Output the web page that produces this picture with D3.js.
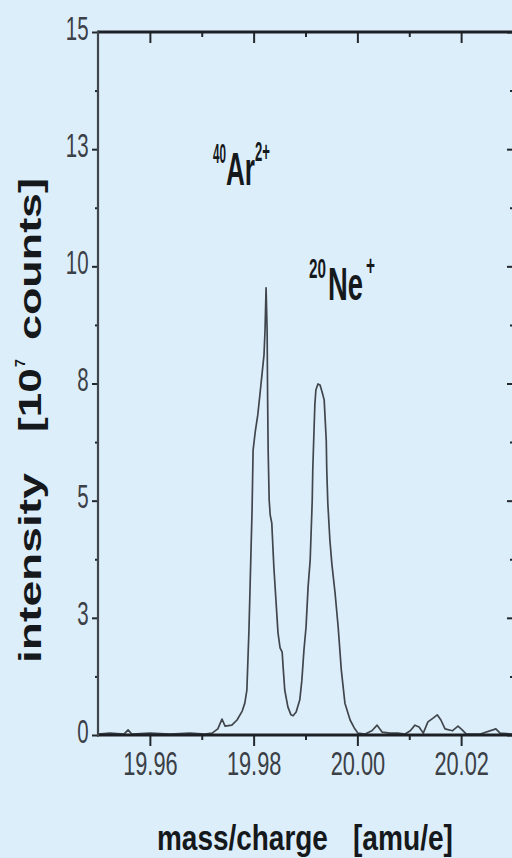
<!DOCTYPE html>
<html>
<head>
<meta charset="utf-8">
<script src="https://cdn.jsdelivr.net/npm/d3@7/dist/d3.min.js"></script>
<style>
  html, body { margin: 0; padding: 0; background: #ddeefb; }
  svg { display: block; }
</style>
</head>
<body>
<svg id="chart" width="512" height="858"></svg>
<script>
// Mass spectrum around m/q = 20: 40Ar2+ and 20Ne+ peaks
const massValues = [
  19.9500, 19.9523, 19.9550, 19.9558, 19.9565, 19.9600, 19.9639, 19.9677, 19.9706, 19.9720,
  19.9731, 19.9739, 19.9745, 19.9758, 19.9768, 19.9778, 19.9783, 19.9787, 19.9789, 19.9791,
  19.9793, 19.9795, 19.9797, 19.9799, 19.9803, 19.9808, 19.9812, 19.9816, 19.9820, 19.9822,
  19.9824, 19.9826, 19.9827, 19.9828, 19.9830, 19.9832, 19.9835, 19.9837, 19.9839, 19.9843,
  19.9847, 19.9851, 19.9855, 19.9857, 19.9860, 19.9866, 19.9872, 19.9876, 19.9882, 19.9889,
  19.9893, 19.9897, 19.9901, 19.9905, 19.9909, 19.9911, 19.9913, 19.9914, 19.9916, 19.9918,
  19.9920, 19.9924, 19.9928, 19.9932, 19.9936, 19.9940, 19.9941, 19.9943, 19.9947, 19.9951,
  19.9957, 19.9963, 19.9969, 19.9976, 19.9986, 19.9994, 20.0001, 20.0015, 20.0028, 20.0038,
  20.0048, 20.0063, 20.0078, 20.0092, 20.0102, 20.0111, 20.0119, 20.0127, 20.0136, 20.0146,
  20.0154, 20.0161, 20.0169, 20.0183, 20.0194, 20.0202, 20.0210, 20.0237, 20.0267, 20.0275,
  20.0298
];
const intensityValues = [
  0.02, 0.04, 0.02, 0.11, 0.02, 0.04, 0.02, 0.04, 0.02, 0.04,
  0.13, 0.34, 0.19, 0.21, 0.32, 0.51, 0.68, 0.96, 1.60, 2.24,
  3.09, 3.95, 4.80, 6.08, 6.46, 6.83, 7.25, 7.68, 8.11, 8.64,
  9.54, 8.64, 7.15, 6.08, 5.01, 4.69, 4.52, 4.05, 3.58, 2.88,
  2.18, 1.86, 1.77, 1.43, 0.96, 0.60, 0.43, 0.41, 0.49, 0.75,
  1.17, 1.81, 2.30, 3.16, 3.73, 4.37, 5.01, 5.65, 6.36, 7.04,
  7.36, 7.49, 7.47, 7.32, 7.15, 6.29, 5.65, 4.95, 4.16, 3.63,
  3.03, 2.30, 1.39, 0.68, 0.32, 0.15, 0.04, 0.02, 0.09, 0.21,
  0.06, 0.04, 0.04, 0.02, 0.09, 0.21, 0.17, 0.04, 0.28, 0.36,
  0.43, 0.32, 0.13, 0.09, 0.19, 0.11, 0.02, 0.02, 0.13, 0.04,
  0.02
];

const xMajorTicks = [19.96, 19.98, 20.00, 20.02];
const xTickLabels = ["19.96", "19.98", "20.00", "20.02"];
const xMinorTicks = [19.97, 19.99, 20.01, 20.03];
const yMajorTicks = [0, 2.5, 5, 7.5, 10, 12.5, 15];
const yTickLabels = ["0", "3", "5", "8", "10", "13", "15"];
const yMinorTicks = [1.25, 3.75, 6.25, 8.75, 11.25, 13.75];

const svg = d3.select("#chart");
const bg = "#ddeefb";
const ink = "#23282d";
const font = "'Liberation Sans', Arial, Helvetica, sans-serif";

svg.append("rect").attr("width", 512).attr("height", 858).attr("fill", bg);

const x = d3.scaleLinear().domain([19.95, 20.03]).range([98, 513]);
const y = d3.scaleLinear().domain([0, 15]).range([735, 32]);

const [x0, x1] = x.range();
const [yb, yt] = y.range();

function styleTicks(g, w) {
  g.select(".domain").remove();
  g.selectAll(".tick line").attr("stroke", ink).attr("stroke-width", w);
}

// the typeface in this figure is a narrow one: squeeze glyphs horizontally
const yLabelSquash = 0.62;
const xLabelSquash = 0.66;

// left axis: outward ticks
svg.append("g").attr("transform", `translate(${x0},0)`)
  .call(d3.axisLeft(y).tickValues(yMinorTicks).tickSize(3).tickSizeOuter(0).tickFormat(""))
  .call(g => styleTicks(g, 2));
const yAxisG = svg.append("g").attr("transform", `translate(${x0},0)`)
  .call(d3.axisLeft(y).tickValues(yMajorTicks).tickSize(6).tickSizeOuter(0)
    .tickFormat((d, i) => yTickLabels[i]))
  .call(g => styleTicks(g, 2));
yAxisG.selectAll(".tick text")
  .attr("text-anchor", "end")
  .attr("x", -9.5 / yLabelSquash)
  .attr("y", 7).attr("dy", 0)
  .attr("transform", `scale(${yLabelSquash},1)`)
  .attr("font-family", font).attr("font-size", 33)
  .attr("fill", "#3a4046");

// right axis: inward ticks
svg.append("g").attr("transform", `translate(${x1},0)`)
  .call(d3.axisLeft(y).tickValues(yMinorTicks).tickSize(3).tickSizeOuter(0).tickFormat(""))
  .call(g => styleTicks(g, 2));
svg.append("g").attr("transform", `translate(${x1},0)`)
  .call(d3.axisLeft(y).tickValues(yMajorTicks).tickSize(6).tickSizeOuter(0).tickFormat(""))
  .call(g => styleTicks(g, 2));

// top axis: inward ticks
svg.append("g").attr("transform", `translate(0,${yt})`)
  .call(d3.axisBottom(x).tickValues(xMinorTicks).tickSize(5).tickSizeOuter(0).tickFormat(""))
  .call(g => styleTicks(g, 2));
svg.append("g").attr("transform", `translate(0,${yt})`)
  .call(d3.axisBottom(x).tickValues(xMajorTicks).tickSize(11).tickSizeOuter(0).tickFormat(""))
  .call(g => styleTicks(g, 2));

// bottom axis: outward ticks with labels
svg.append("g").attr("transform", `translate(0,${yb})`)
  .call(d3.axisBottom(x).tickValues(xMinorTicks).tickSize(5).tickSizeOuter(0).tickFormat(""))
  .call(g => styleTicks(g, 2));
const xAxisG = svg.append("g").attr("transform", `translate(0,${yb})`)
  .call(d3.axisBottom(x).tickValues(xMajorTicks).tickSize(11).tickSizeOuter(0)
    .tickFormat((d, i) => xTickLabels[i]))
  .call(g => styleTicks(g, 2));
xAxisG.selectAll(".tick text")
  .attr("text-anchor", "middle")
  .attr("x", 0).attr("y", 40).attr("dy", 0)
  .attr("transform", `scale(${xLabelSquash},1)`)
  .attr("font-family", font).attr("font-size", 33)
  .attr("fill", "#3a4046");

// spectrum trace
const pts = massValues.map((m, i) => [m, intensityValues[i]]);
svg.append("path")
  .datum(pts)
  .attr("fill", "none")
  .attr("stroke", "#40464c")
  .attr("stroke-width", 1.7)
  .attr("stroke-linejoin", "round")
  .attr("d", d3.line().x(d => x(d[0])).y(d => y(d[1])));

// frame
svg.append("line").attr("x1", x0).attr("x2", x1).attr("y1", yt).attr("y2", yt)
  .attr("stroke", "#1c2024").attr("stroke-width", 3);
svg.append("line").attr("x1", x0 - 1).attr("x2", x1).attr("y1", yb).attr("y2", yb)
  .attr("stroke", "#1c2024").attr("stroke-width", 3);
svg.append("line").attr("x1", x0).attr("x2", x0).attr("y1", yt - 1.5).attr("y2", yb + 1.5)
  .attr("stroke", "#3f454b").attr("stroke-width", 2.2);
svg.append("line").attr("x1", x1).attr("x2", x1).attr("y1", yt).attr("y2", yb)
  .attr("stroke", "#1c2024").attr("stroke-width", 2);

// bold label squeezed to a given advance width (horizontal)
function label(txt, px, py, size, len) {
  const g = svg.append("g");
  const t = g.append("text")
    .attr("x", 0).attr("y", 0)
    .attr("font-family", font).attr("font-weight", "bold")
    .attr("font-size", size)
    .attr("fill", "#15191c")
    .text(txt);
  const natural = t.node().getComputedTextLength();
  g.attr("transform", `translate(${px},${py}) scale(${len / natural},1)`);
  return t;
}

// bold label running bottom-to-top, stretched to a given length
function vlabel(txt, bx, startY, size, len) {
  const g = svg.append("g");
  const t = g.append("text")
    .attr("x", 0).attr("y", 0)
    .attr("font-family", font).attr("font-weight", "bold")
    .attr("font-size", size)
    .attr("fill", "#15191c")
    .text(txt);
  const natural = t.node().getComputedTextLength();
  g.attr("transform", `translate(${bx},${startY}) rotate(-90) scale(${len / natural},1)`);
  return t;
}

// peak annotations
label("40", 213, 163, 27, 13);
label("Ar", 226, 185, 46, 29);
label("2+", 255, 161, 27, 15);
label("20", 309, 278, 27, 17);
label("Ne", 328, 300, 46, 35);
label("+", 366, 275, 27, 9);

// axis titles
label("mass/charge", 157, 850, 35, 171);
label("[amu/e]", 353, 850, 35, 100);

vlabel("intensity", 41, 663, 31, 190);
vlabel("[10", 41, 432, 31, 64);
vlabel("7", 25, 367, 15, 8);
vlabel("counts]", 41, 340, 31, 162);
</script>
</body>
</html>
